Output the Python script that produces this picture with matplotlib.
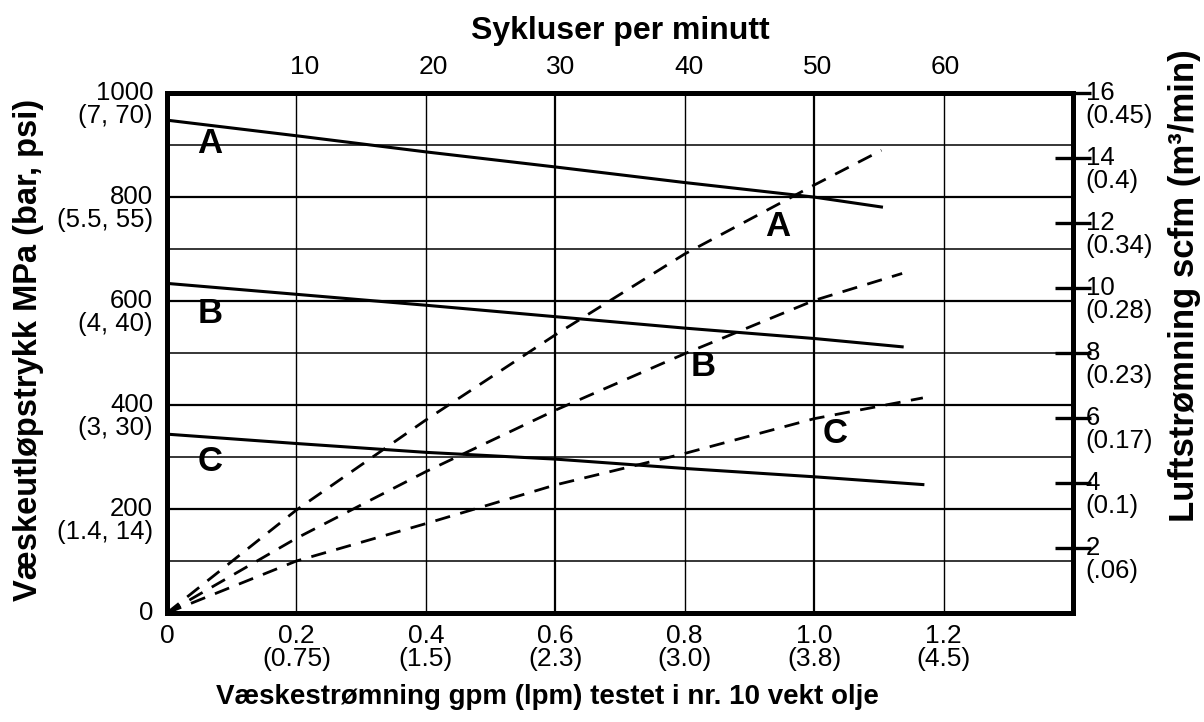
"""Pump performance chart: fluid outlet pressure and air flow vs fluid flow."""
import numpy as np
import matplotlib
matplotlib.use("Agg")
import matplotlib.pyplot as plt

plt.rcParams["font.family"] = ["Liberation Sans", "DejaVu Sans"]

# fluid flow (gpm) where each curve was read
flow_a = [0, 0.2, 0.4, 0.6, 0.8, 1.0, 1.104]
flow_b = [0, 0.2, 0.4, 0.6, 0.8, 1.0, 1.136]
flow_c = [0, 0.2, 0.4, 0.6, 0.8, 1.0, 1.168]

# fluid outlet pressure (left axis, 0..1000)
press_a = [948, 918, 887, 858, 828, 800, 781]
press_b = [634, 613, 592, 570, 548, 528, 512]
press_c = [344, 326, 309, 296, 278, 262, 247]

# air consumption, scfm (dashed curves, right axis)
air_a = [0, 3.17, 5.94, 8.56, 11.05, 13.17, 14.24]
air_b = [0, 2.30, 4.35, 6.24, 7.98, 9.62, 10.45]
air_c = [0, 1.60, 2.75, 3.94, 4.91, 5.98, 6.62]

flow_ticks = [0, 0.2, 0.4, 0.6, 0.8, 1.0, 1.2]
flow_labels = ["0", "0.2\n(0.75)", "0.4\n(1.5)", "0.6\n(2.3)", "0.8\n(3.0)",
               "1.0\n(3.8)", "1.2\n(4.5)"]
press_ticks = [0, 200, 400, 600, 800, 1000]
press_labels = ["0", "200\n(1.4, 14)", "400\n(3, 30)", "600\n(4, 40)",
                "800\n(5.5, 55)", "1000\n(7, 70)"]
air_ticks = [2, 4, 6, 8, 10, 12, 14, 16]
air_labels = ["2\n(.06)", "4\n(0.1)", "6\n(0.17)", "8\n(0.23)", "10\n(0.28)",
              "12\n(0.34)", "14\n(0.4)", "16\n(0.45)"]
cycle_ticks = [10, 20, 30, 40, 50, 60]

fig = plt.figure(figsize=(12.04, 7.22), dpi=100)
ax = fig.add_axes([0.1387, 0.151, 0.7525, 0.720])
ax.set_xlim(0, 1.4)
ax.set_ylim(0, 1000)

# grid: heavier lines on some of the divisions, as in the printed chart
for xv in np.arange(0.2, 1.4, 0.2):
    lw = 1.6 if round(xv, 1) in (0.6, 1.0) else 1.0
    ax.axvline(xv, color="black", lw=lw, zorder=1)
for yv in range(100, 1000, 100):
    lw = 1.6 if yv % 200 == 0 else 1.1
    ax.axhline(yv, color="black", lw=lw, zorder=1)

ax.plot(flow_a, press_a, color="black", lw=2.2, zorder=3)
ax.plot(flow_b, press_b, color="black", lw=2.2, zorder=3)
ax.plot(flow_c, press_c, color="black", lw=2.2, zorder=3)

for s in ax.spines.values():
    s.set_linewidth(3.6)

ax.set_xticks(flow_ticks, labels=flow_labels)
ax.set_yticks([])
ax.tick_params(axis="x", length=0, pad=8, labelsize=19)
for t in ax.get_xticklabels():
    t.set_linespacing(0.92)

for v, lab in zip(press_ticks, press_labels):
    ax.annotate(lab, xy=(0, v), xycoords=("axes fraction", "data"),
                xytext=(-10, 8.5), textcoords="offset points",
                ha="right", va="top", fontsize=18.5, linespacing=0.92)

kw = dict(fontsize=25, fontweight="bold", ha="center", va="center", zorder=4)
ax.text(0.066, 903, "A", **kw)
ax.text(0.066, 576, "B", **kw)
ax.text(0.066, 291, "C", **kw)

# right axis: air flow
ax2 = ax.twinx()
ax2.set_ylim(0, 16)
dash = dict(color="black", lw=2.0, dashes=(5.5, 3.8), zorder=3)
ax2.plot(flow_a, air_a, **dash)
ax2.plot(flow_b, air_b, **dash)
ax2.plot(flow_c, air_c, **dash)
ax2.set_yticks(air_ticks)
ax2.tick_params(axis="y", direction="inout", length=26, width=2.4,
                labelright=False)
for s in ax2.spines.values():
    s.set_visible(False)
for v, lab in zip(air_ticks, air_labels):
    ax2.annotate(lab, xy=(1, v), xycoords=("axes fraction", "data"),
                 xytext=(9, 8.5), textcoords="offset points",
                 ha="left", va="top", fontsize=18.5, linespacing=0.92)

ax2.text(0.944, 743 / 62.5, "A", **kw)
ax2.text(0.828, 474 / 62.5, "B", **kw)
ax2.text(1.032, 346 / 62.5, "C", **kw)

# top axis: cycles per minute
sec = ax.secondary_xaxis("top", functions=(lambda x: (x - 0.015) / 0.0198,
                                           lambda c: c * 0.0198 + 0.015))
sec.set_xticks(cycle_ticks)
sec.tick_params(length=0, pad=10, labelsize=19)
sec.spines["top"].set_visible(False)
sec.set_xlabel("Sykluser per minutt", fontsize=23, fontweight="bold",
               labelpad=12)

fig.text(0.455, 0.035, "Væskestrømning gpm (lpm) testet i nr. 10 vekt olje",
         fontsize=20, fontweight="bold", ha="center", va="center")
fig.text(0.024, 0.515, "Væskeutløpstrykk MPa (bar, psi)", fontsize=23.5,
         fontweight="bold", rotation=90, ha="center", va="center")
fig.text(0.984, 0.605, "Luftstrømning scfm (m³/min)", fontsize=25,
         fontweight="bold", rotation=90, ha="center", va="center")

fig.savefig("out.png", dpi=100)
